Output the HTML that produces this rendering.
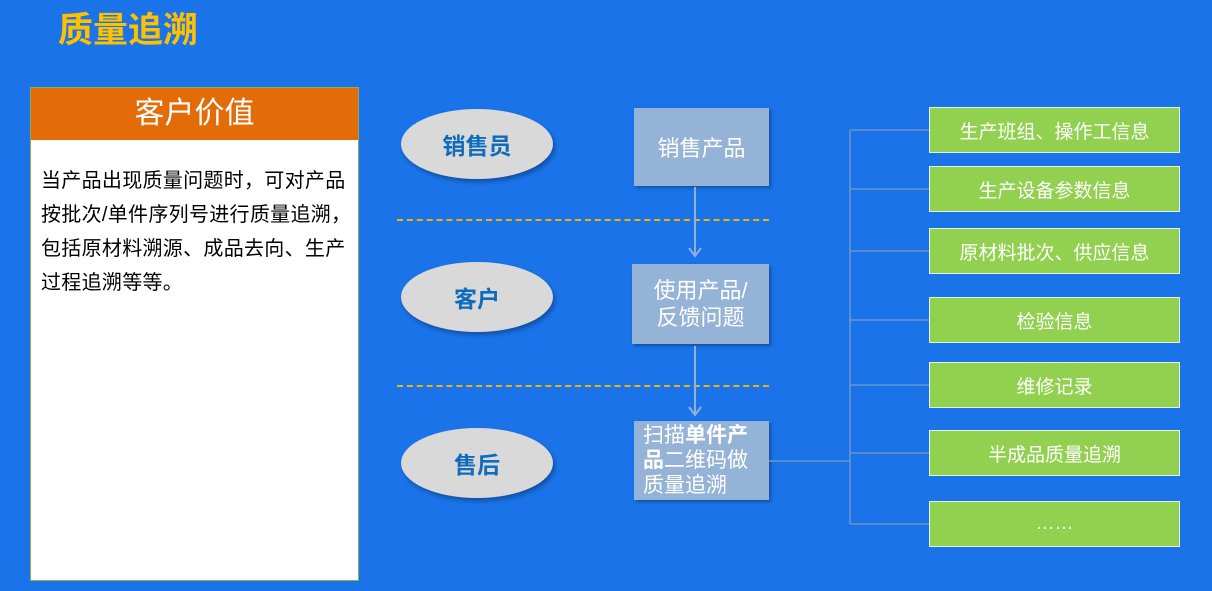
<html><head><style>
body{margin:0;width:1212px;height:591px;background:#1a73e8;position:relative;overflow:hidden;font-family:"Liberation Sans","Noto Sans CJK SC",sans-serif}
.a{position:absolute}
.ell{position:absolute;width:152px;height:70px;border-radius:50%;background:#d9d9d9;color:#0f6cbd;font-weight:bold;font-size:23px;display:flex;align-items:center;justify-content:center;box-shadow:2px 3px 4px rgba(0,0,0,.3)}
.box{position:absolute;background:#95b3d7;color:#fff;font-size:22px;box-shadow:2px 2px 3px rgba(0,0,0,.3)}
.g{position:absolute;left:929px;width:249px;height:44px;background:#92d050;border:1px solid #e8f5dc;color:#fff;font-size:19px;display:flex;align-items:center;justify-content:center}
.dash{position:absolute;left:397px;width:372px;border-top:2px dashed #f0b400}
</style></head><body>
<div class="a" style="left:58px;top:2px;font-size:35px;font-weight:bold;color:#ffc000">质量追溯</div>
<div class="a" style="left:30px;top:87px;width:327px;height:492px;background:#fff;border:1px solid #8db04a">
<div style="background:#e36c09;height:52px;color:#fff;font-size:30px;text-align:center;line-height:52px">客户价值</div>
<div style="padding:24px 0 0 10px;font-size:20px;letter-spacing:0.3px;line-height:34px;color:#000;white-space:nowrap">当产品出现质量问题时，可对产品<br>按批次/单件序列号进行质量追溯，<br>包括原材料溯源、成品去向、生产<br>过程追溯等等。</div>
</div>
<div class="ell" style="left:401px;top:109px">销售员</div>
<div class="ell" style="left:401px;top:262px">客户</div>
<div class="ell" style="left:401px;top:428px">售后</div>
<div class="dash" style="top:219px"></div>
<div class="dash" style="top:385px"></div>
<div class="box" style="left:634px;top:108px;width:135px;height:78px;display:flex;align-items:center;justify-content:center">销售产品</div>
<div class="box" style="left:632px;top:264px;width:137px;height:80px;display:flex;align-items:center;justify-content:center;text-align:center;line-height:27px">使用产品/<br>反馈问题</div>
<div class="box" style="left:634px;top:421px;width:135px;height:79px;font-size:21px;line-height:25px;padding:2px 0 0 9px;box-sizing:border-box;white-space:nowrap">扫描<b>单件产</b><br><b>品</b>二维码做<br>质量追溯</div>
<svg class="a" style="left:0;top:0" width="1212" height="591">
<g stroke="#8fb0dd" stroke-width="2" fill="none">
<line x1="695" y1="187" x2="695" y2="255"/><polyline points="689,248 695,256 701,248"/>
<line x1="695" y1="346" x2="695" y2="414"/><polyline points="689,407 695,415 701,407"/>
</g>
<g stroke="#6d93c9" stroke-width="1.5" fill="none">
<line x1="769" y1="461" x2="850" y2="461"/>
<line x1="850" y1="130" x2="850" y2="524"/>
<line x1="850" y1="130" x2="929" y2="130"/>
<line x1="850" y1="189" x2="929" y2="189"/>
<line x1="850" y1="251" x2="929" y2="251"/>
<line x1="850" y1="320" x2="929" y2="320"/>
<line x1="850" y1="385" x2="929" y2="385"/>
<line x1="850" y1="453" x2="929" y2="453"/>
<line x1="850" y1="524" x2="929" y2="524"/>
</g></svg>
<div class="g" style="top:107px">生产班组、操作工信息</div>
<div class="g" style="top:166px">生产设备参数信息</div>
<div class="g" style="top:228px">原材料批次、供应信息</div>
<div class="g" style="top:297px">检验信息</div>
<div class="g" style="top:362px">维修记录</div>
<div class="g" style="top:430px">半成品质量追溯</div>
<div class="g" style="top:501px">……</div>
</body></html>
